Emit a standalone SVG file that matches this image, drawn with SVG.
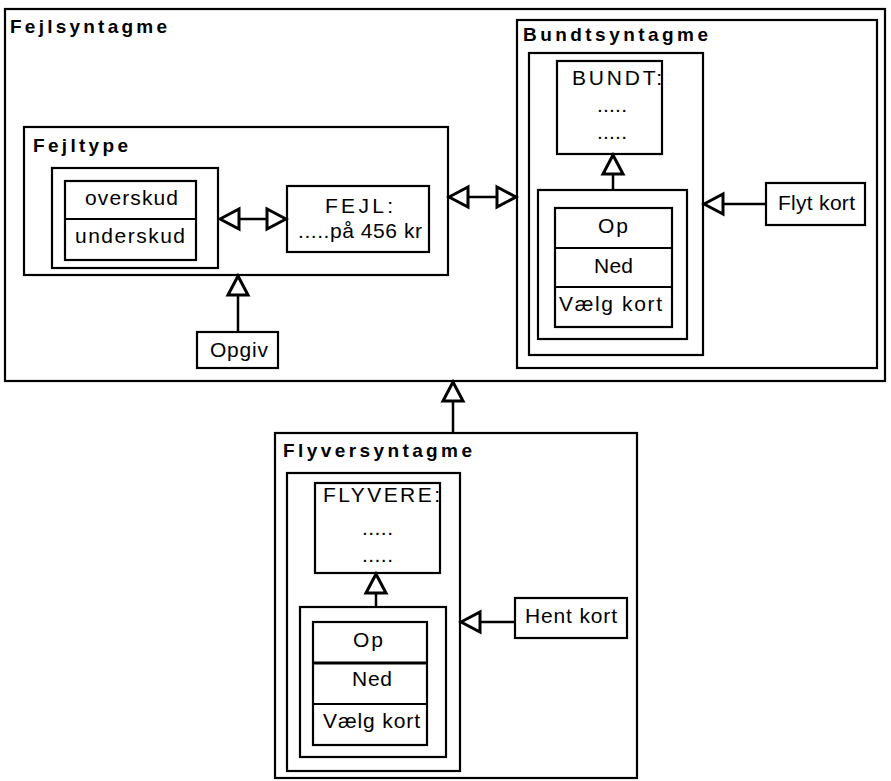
<svg xmlns="http://www.w3.org/2000/svg" width="891" height="781" viewBox="0 0 891 781">
<style>
rect{fill:none;stroke:#000;stroke-width:2.2}
.title{font-family:"Liberation Sans",Arial,sans-serif;font-weight:bold;font-size:19px;fill:#000}
.t{font-family:"Liberation Sans",Arial,sans-serif;font-size:21px;fill:#000}
.c{fill:none;stroke:#000;stroke-width:2.5}
.div{stroke:#000;stroke-width:2}
</style>
<defs>
<marker id="tri" viewBox="0 0 26 26" refX="23" refY="13" markerWidth="26" markerHeight="26" markerUnits="userSpaceOnUse" orient="auto-start-reverse">
<path d="M23,13 L4,3 L4,23 Z" fill="#fff" stroke="#000" stroke-width="3" stroke-linejoin="miter"/>
</marker>
</defs>
<rect width="891" height="781" style="fill:#fff;stroke:none"/>

<g id="fejlsyntagme">
<rect x="5" y="9" width="880" height="372"/>
<text class="title" x="10" y="33" textLength="157" lengthAdjust="spacing">Fejlsyntagme</text>
</g>

<g id="fejltype">
<rect x="24" y="127" width="424" height="148"/>
<text class="title" x="33" y="152" textLength="95" lengthAdjust="spacing">Fejltype</text>
</g>

<g id="overskud-underskud">
<rect x="52" y="168" width="166" height="100"/>
<rect x="65" y="181" width="131" height="79"/>
<line class="div" x1="65" y1="219" x2="196" y2="219"/>
<text class="t" x="85" y="205" textLength="93" lengthAdjust="spacing">overskud</text>
<text class="t" x="75" y="243" textLength="110" lengthAdjust="spacing">underskud</text>
</g>

<g id="fejl">
<rect x="287" y="186" width="142" height="66"/>
<text class="t" x="325" y="213" textLength="68" lengthAdjust="spacing">FEJL:</text>
<text class="t" x="298" y="238" textLength="124" lengthAdjust="spacing">.....på 456 kr</text>
</g>

<g id="opgiv">
<rect x="197" y="332" width="81" height="36"/>
<text class="t" x="210" y="357" textLength="58" lengthAdjust="spacing">Opgiv</text>
</g>

<g id="bundtsyntagme">
<rect x="517" y="20" width="360" height="348"/>
<text class="title" x="523" y="41" textLength="185" lengthAdjust="spacing">Bundtsyntagme</text>
<rect x="529" y="53" width="174" height="302"/>
</g>

<g id="bundt">
<rect x="557" y="61" width="105" height="93"/>
<text class="t" x="572" y="85" textLength="90" lengthAdjust="spacing">BUNDT:</text>
<text class="t" x="597" y="112" textLength="30" lengthAdjust="spacing">.....</text>
<text class="t" x="597" y="139" textLength="30" lengthAdjust="spacing">.....</text>
</g>

<g id="bundt-menu">
<rect x="538" y="190" width="149" height="149"/>
<rect x="555" y="208" width="117" height="119"/>
<line class="div" x1="555" y1="248" x2="672" y2="248"/>
<line class="div" x1="555" y1="287" x2="672" y2="287"/>
<text class="t" x="598" y="233" textLength="30" lengthAdjust="spacing">Op</text>
<text class="t" x="594" y="273" textLength="39" lengthAdjust="spacing">Ned</text>
<text class="t" x="559" y="311" textLength="103" lengthAdjust="spacing">Vælg kort</text>
</g>

<g id="flyt-kort">
<rect x="766" y="183" width="99" height="42"/>
<text class="t" x="778" y="210" textLength="77" lengthAdjust="spacing">Flyt kort</text>
</g>

<g id="flyversyntagme">
<rect x="275" y="433" width="362" height="345"/>
<text class="title" x="283" y="457" textLength="189" lengthAdjust="spacing">Flyversyntagme</text>
<rect x="287" y="473" width="173" height="298"/>
</g>

<g id="flyvere">
<rect x="315" y="483" width="125" height="90"/>
<text class="t" x="323" y="502" textLength="117" lengthAdjust="spacing">FLYVERE:</text>
<text class="t" x="362" y="535" textLength="31" lengthAdjust="spacing">.....</text>
<text class="t" x="362" y="562" textLength="31" lengthAdjust="spacing">.....</text>
</g>

<g id="flyvere-menu">
<rect x="300" y="607" width="146" height="150"/>
<rect x="313" y="622" width="114" height="123"/>
<line class="div" x1="313" y1="663" x2="427" y2="663" style="stroke-width:3"/>
<line class="div" x1="313" y1="704" x2="427" y2="704"/>
<text class="t" x="353" y="647" textLength="30" lengthAdjust="spacing">Op</text>
<text class="t" x="352" y="686" textLength="40" lengthAdjust="spacing">Ned</text>
<text class="t" x="323" y="728" textLength="97" lengthAdjust="spacing">Vælg kort</text>
</g>

<g id="hent-kort">
<rect x="515" y="598" width="112" height="40"/>
<text class="t" x="525" y="623" textLength="92" lengthAdjust="spacing">Hent kort</text>
</g>

<g id="connectors">
<line class="c" x1="220" y1="219" x2="286" y2="219" marker-start="url(#tri)" marker-end="url(#tri)"/>
<line class="c" x1="238" y1="332" x2="238" y2="276" marker-end="url(#tri)"/>
<line class="c" x1="449" y1="197" x2="516" y2="197" marker-start="url(#tri)" marker-end="url(#tri)"/>
<line class="c" x1="613" y1="190" x2="613" y2="155" marker-end="url(#tri)"/>
<line class="c" x1="766" y1="204" x2="704" y2="204" marker-end="url(#tri)"/>
<line class="c" x1="453" y1="433" x2="453" y2="382" marker-end="url(#tri)"/>
<line class="c" x1="376" y1="607" x2="376" y2="574" marker-end="url(#tri)"/>
<line class="c" x1="515" y1="622" x2="461" y2="622" marker-end="url(#tri)"/>
</g>
</svg>
